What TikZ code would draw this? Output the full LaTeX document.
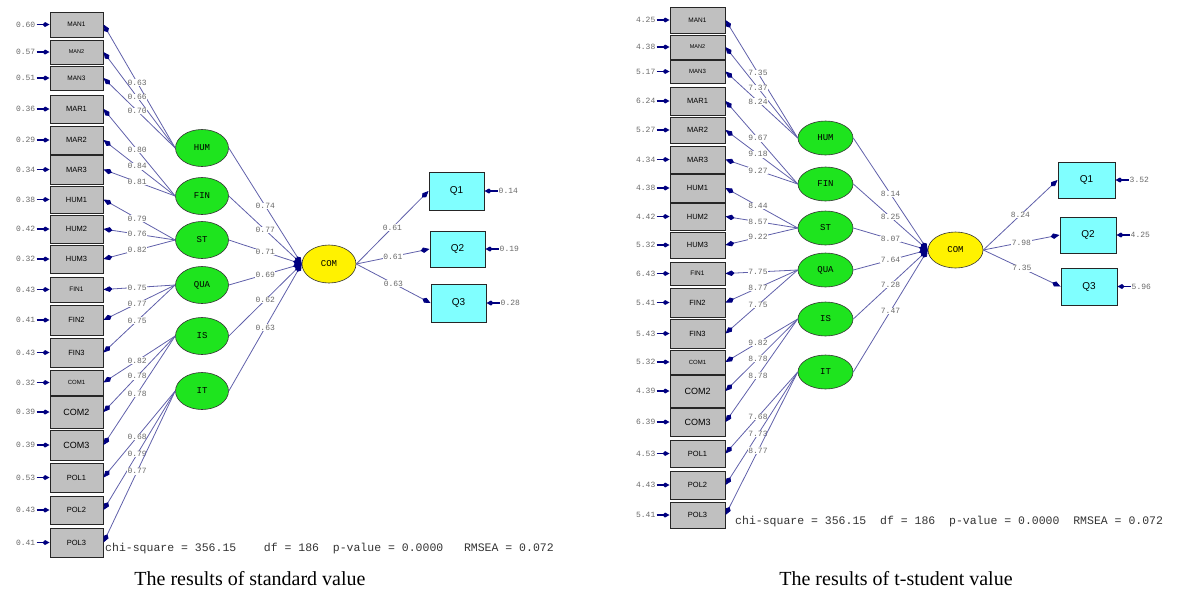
\documentclass[tikz,border=0pt]{standalone}
\usepackage{fontspec}
\setmainfont{Liberation Serif}
\setsansfont{Liberation Sans}
\setmonofont{Liberation Mono}
\usepackage{tikz}
\usetikzlibrary{positioning,arrows.meta,shapes.geometric}

\definecolor{boxgray}{RGB}{192,192,192}
\definecolor{latgreen}{RGB}{30,228,30}
\definecolor{comyellow}{RGB}{255,242,0}
\definecolor{qcyan}{RGB}{128,255,255}
\definecolor{pathblue}{RGB}{96,96,170}
\definecolor{tipnavy}{RGB}{0,0,128}
\definecolor{labgray}{RGB}{105,105,105}

\begin{document}
\begin{tikzpicture}[x=1pt, y=-1pt,
    ind/.style={rectangle, draw=black!85, line width=1pt, fill=boxgray, minimum width=53pt, inner sep=0pt, font=\sffamily\fontsize{7.5}{8}\selectfont},
    lat/.style={ellipse, draw=black!80, line width=0.6pt, fill=latgreen, minimum width=53pt, minimum height=37pt, inner sep=0pt, font=\ttfamily\fontsize{9}{10}\selectfont},
    qbox/.style={rectangle, draw=black!85, line width=1pt, fill=qcyan, minimum width=55pt, minimum height=37pt, inner sep=0pt, font=\sffamily\fontsize{10}{11}\selectfont},
    err/.style={inner sep=1pt, text=labgray, font=\ttfamily\fontsize{8}{9}\selectfont},
    load/.style={fill=white, inner sep=0.6pt, text=labgray, font=\ttfamily\fontsize{8}{9}\selectfont},
    lpath/.style={draw=pathblue, line width=0.8pt, -{Kite[length=9pt,width=5.5pt,inset=3pt,color=tipnavy]}},
    errarr/.style={draw=tipnavy, line width=1.5pt, -{Kite[length=7pt,width=5pt,inset=2.5pt]}},
    chi/.style={anchor=base west, inner sep=0pt, text=black!80, font=\ttfamily\fontsize{11.5}{12}\selectfont},
    caption/.style={anchor=base, inner sep=0pt, font=\fontsize{20}{22}\selectfont}]
    \useasboundingbox (0,0) rectangle (1178,600);

    %% Standard values
    \node[ind, minimum height=25pt, font=\sffamily\fontsize{6.5}{7}\selectfont] (MAN1) at (76.5,24.5) {MAN1};
    \node[ind, minimum height=24pt, font=\sffamily\fontsize{5.5}{6}\selectfont] (MAN2) at (76.5,52) {MAN2};
    \node[ind, minimum height=24pt, font=\sffamily\fontsize{6.5}{7}\selectfont] (MAN3) at (76.5,78) {MAN3};
    \node[ind, minimum height=28pt] (MAR1) at (76.5,109) {MAR1};
    \node[ind, minimum height=28pt] (MAR2) at (76.5,140) {MAR2};
    \node[ind, minimum height=29pt] (MAR3) at (76.5,169.5) {MAR3};
    \node[ind, minimum height=27pt] (HUM1) at (76.5,199.5) {HUM1};
    \node[ind, minimum height=28pt] (HUM2) at (76.5,229) {HUM2};
    \node[ind, minimum height=28pt] (HUM3) at (76.5,259) {HUM3};
    \node[ind, minimum height=25pt, font=\sffamily\fontsize{6.5}{7}\selectfont] (FIN1) at (76.5,289.5) {FIN1};
    \node[ind, minimum height=30pt] (FIN2) at (76.5,320) {FIN2};
    \node[ind, minimum height=29pt] (FIN3) at (76.5,352.5) {FIN3};
    \node[ind, minimum height=25pt, font=\sffamily\fontsize{6}{7}\selectfont] (COM1) at (76.5,382.5) {COM1};
    \node[ind, minimum height=32pt, font=\sffamily\fontsize{9}{10}\selectfont] (COM2) at (76.5,412) {COM2};
    \node[ind, minimum height=30pt, font=\sffamily\fontsize{9}{10}\selectfont] (COM3) at (76.5,445) {COM3};
    \node[ind, minimum height=29pt] (POL1) at (76.5,477.5) {POL1};
    \node[ind, minimum height=28pt] (POL2) at (76.5,510) {POL2};
    \node[ind, minimum height=29pt] (POL3) at (76.5,542.5) {POL3};

    \node[err, left=13pt of MAN1] (eMAN1) {0.60}; \draw[errarr] (eMAN1) -- (MAN1);
    \node[err, left=13pt of MAN2] (eMAN2) {0.57}; \draw[errarr] (eMAN2) -- (MAN2);
    \node[err, left=13pt of MAN3] (eMAN3) {0.51}; \draw[errarr] (eMAN3) -- (MAN3);
    \node[err, left=13pt of MAR1] (eMAR1) {0.36}; \draw[errarr] (eMAR1) -- (MAR1);
    \node[err, left=13pt of MAR2] (eMAR2) {0.29}; \draw[errarr] (eMAR2) -- (MAR2);
    \node[err, left=13pt of MAR3] (eMAR3) {0.34}; \draw[errarr] (eMAR3) -- (MAR3);
    \node[err, left=13pt of HUM1] (eHUM1) {0.38}; \draw[errarr] (eHUM1) -- (HUM1);
    \node[err, left=13pt of HUM2] (eHUM2) {0.42}; \draw[errarr] (eHUM2) -- (HUM2);
    \node[err, left=13pt of HUM3] (eHUM3) {0.32}; \draw[errarr] (eHUM3) -- (HUM3);
    \node[err, left=13pt of FIN1] (eFIN1) {0.43}; \draw[errarr] (eFIN1) -- (FIN1);
    \node[err, left=13pt of FIN2] (eFIN2) {0.41}; \draw[errarr] (eFIN2) -- (FIN2);
    \node[err, left=13pt of FIN3] (eFIN3) {0.43}; \draw[errarr] (eFIN3) -- (FIN3);
    \node[err, left=13pt of COM1] (eCOM1) {0.32}; \draw[errarr] (eCOM1) -- (COM1);
    \node[err, left=13pt of COM2] (eCOM2) {0.39}; \draw[errarr] (eCOM2) -- (COM2);
    \node[err, left=13pt of COM3] (eCOM3) {0.39}; \draw[errarr] (eCOM3) -- (COM3);
    \node[err, left=13pt of POL1] (ePOL1) {0.53}; \draw[errarr] (ePOL1) -- (POL1);
    \node[err, left=13pt of POL2] (ePOL2) {0.43}; \draw[errarr] (ePOL2) -- (POL2);
    \node[err, left=13pt of POL3] (ePOL3) {0.41}; \draw[errarr] (ePOL3) -- (POL3);

    \node[lat] (HUM) at (202,148) {HUM};
    \node[lat] (FIN) at (202,196) {FIN};
    \node[lat] (ST) at (202,240) {ST};
    \node[lat] (QUA) at (202,285) {QUA};
    \node[lat] (IS) at (202,336) {IS};
    \node[lat] (IT) at (202,391) {IT};

    \draw[lpath] (HUM.west) -- node[load, pos=0.53] {0.63} (MAN1.east);
    \draw[lpath] (HUM.west) -- node[load, pos=0.53] {0.66} (MAN2.east);
    \draw[lpath] (HUM.west) -- node[load, pos=0.53] {0.70} (MAN3.east);
    \draw[lpath] (FIN.west) -- node[load, pos=0.53] {0.80} (MAR1.east);
    \draw[lpath] (FIN.west) -- node[load, pos=0.53] {0.84} (MAR2.east);
    \draw[lpath] (FIN.west) -- node[load, pos=0.53] {0.81} (MAR3.east);
    \draw[lpath] (ST.west) -- node[load, pos=0.53] {0.79} (HUM1.east);
    \draw[lpath] (ST.west) -- node[load, pos=0.53] {0.76} (HUM2.east);
    \draw[lpath] (ST.west) -- node[load, pos=0.53] {0.82} (HUM3.east);
    \draw[lpath] (QUA.west) -- node[load, pos=0.53] {0.75} (FIN1.east);
    \draw[lpath] (QUA.west) -- node[load, pos=0.53] {0.77} (FIN2.east);
    \draw[lpath] (QUA.west) -- node[load, pos=0.53] {0.75} (FIN3.east);
    \draw[lpath] (IS.west) -- node[load, pos=0.53] {0.82} (COM1.east);
    \draw[lpath] (IS.west) -- node[load, pos=0.53] {0.78} (COM2.east);
    \draw[lpath] (IS.west) -- node[load, pos=0.53] {0.78} (COM3.east);
    \draw[lpath] (IT.west) -- node[load, pos=0.53] {0.68} (POL1.east);
    \draw[lpath] (IT.west) -- node[load, pos=0.53] {0.79} (POL2.east);
    \draw[lpath] (IT.west) -- node[load, pos=0.53] {0.77} (POL3.east);

    \node[lat, fill=comyellow, minimum width=54pt, minimum height=38pt] (COM) at (329,264) {COM};
    \draw[lpath] (HUM.east) -- node[load] {0.74} (COM.west);
    \draw[lpath] (FIN.east) -- node[load] {0.77} (COM.west);
    \draw[lpath] (ST.east) -- node[load] {0.71} (COM.west);
    \draw[lpath] (QUA.east) -- node[load] {0.69} (COM.west);
    \draw[lpath] (IS.east) -- node[load] {0.62} (COM.west);
    \draw[lpath] (IT.east) -- node[load] {0.63} (COM.west);

    \node[qbox, minimum height=38pt] (Q1) at (456.5,191) {Q1};
    \node[qbox, minimum height=36pt] (Q2) at (457.5,249) {Q2};
    \node[qbox, minimum height=38pt] (Q3) at (458.5,303) {Q3};
    \draw[lpath] (COM.east) -- node[load] {0.61} (Q1.west);
    \draw[lpath] (COM.east) -- node[load] {0.61} (Q2.west);
    \draw[lpath] (COM.east) -- node[load] {0.63} (Q3.west);
    \node[err, right=13pt of Q1] (eQ1) {0.14}; \draw[errarr] (eQ1) -- (Q1);
    \node[err, right=13pt of Q2] (eQ2) {0.19}; \draw[errarr] (eQ2) -- (Q2);
    \node[err, right=13pt of Q3] (eQ3) {0.28}; \draw[errarr] (eQ3) -- (Q3);

    \node[chi] (fit) at (105,551) {chi-square~=~356.15~~~~df~=~186~~p-value~=~0.0000~~~RMSEA~=~0.072};
    \node[caption] (cap) at (250,585) {The results of standard value};

    %% t-student values
    \node[ind, minimum width=55pt, minimum height=26pt, font=\sffamily\fontsize{6.5}{7}\selectfont] (MAN1) at (697.5,20) {MAN1};
    \node[ind, minimum width=55pt, minimum height=24pt, font=\sffamily\fontsize{5.5}{6}\selectfont] (MAN2) at (697.5,47) {MAN2};
    \node[ind, minimum width=55pt, minimum height=23pt, font=\sffamily\fontsize{6}{7}\selectfont] (MAN3) at (697.5,71.5) {MAN3};
    \node[ind, minimum width=55pt, minimum height=28pt] (MAR1) at (697.5,101) {MAR1};
    \node[ind, minimum width=55pt, minimum height=26pt] (MAR2) at (697.5,130) {MAR2};
    \node[ind, minimum width=55pt, minimum height=27pt] (MAR3) at (697.5,159.5) {MAR3};
    \node[ind, minimum width=55pt, minimum height=28pt] (HUM1) at (697.5,188) {HUM1};
    \node[ind, minimum width=55pt, minimum height=27pt] (HUM2) at (697.5,216.5) {HUM2};
    \node[ind, minimum width=55pt, minimum height=26pt] (HUM3) at (697.5,245) {HUM3};
    \node[ind, minimum width=55pt, minimum height=23pt, font=\sffamily\fontsize{6.5}{7}\selectfont] (FIN1) at (697.5,273.5) {FIN1};
    \node[ind, minimum width=55pt, minimum height=29pt] (FIN2) at (697.5,302.5) {FIN2};
    \node[ind, minimum width=55pt, minimum height=29pt] (FIN3) at (697.5,333.5) {FIN3};
    \node[ind, minimum width=55pt, minimum height=24pt, font=\sffamily\fontsize{6}{7}\selectfont] (COM1) at (697.5,362) {COM1};
    \node[ind, minimum width=55pt, minimum height=32pt, font=\sffamily\fontsize{9}{10}\selectfont] (COM2) at (697.5,391) {COM2};
    \node[ind, minimum width=55pt, minimum height=28pt, font=\sffamily\fontsize{9}{10}\selectfont] (COM3) at (697.5,422) {COM3};
    \node[ind, minimum width=55pt, minimum height=27pt] (POL1) at (697.5,453.5) {POL1};
    \node[ind, minimum width=55pt, minimum height=28pt] (POL2) at (697.5,485) {POL2};
    \node[ind, minimum width=55pt, minimum height=26pt] (POL3) at (697.5,515) {POL3};

    \node[err, left=13pt of MAN1] (eMAN1) {4.25}; \draw[errarr] (eMAN1) -- (MAN1);
    \node[err, left=13pt of MAN2] (eMAN2) {4.38}; \draw[errarr] (eMAN2) -- (MAN2);
    \node[err, left=13pt of MAN3] (eMAN3) {5.17}; \draw[errarr] (eMAN3) -- (MAN3);
    \node[err, left=13pt of MAR1] (eMAR1) {6.24}; \draw[errarr] (eMAR1) -- (MAR1);
    \node[err, left=13pt of MAR2] (eMAR2) {5.27}; \draw[errarr] (eMAR2) -- (MAR2);
    \node[err, left=13pt of MAR3] (eMAR3) {4.34}; \draw[errarr] (eMAR3) -- (MAR3);
    \node[err, left=13pt of HUM1] (eHUM1) {4.38}; \draw[errarr] (eHUM1) -- (HUM1);
    \node[err, left=13pt of HUM2] (eHUM2) {4.42}; \draw[errarr] (eHUM2) -- (HUM2);
    \node[err, left=13pt of HUM3] (eHUM3) {5.32}; \draw[errarr] (eHUM3) -- (HUM3);
    \node[err, left=13pt of FIN1] (eFIN1) {6.43}; \draw[errarr] (eFIN1) -- (FIN1);
    \node[err, left=13pt of FIN2] (eFIN2) {5.41}; \draw[errarr] (eFIN2) -- (FIN2);
    \node[err, left=13pt of FIN3] (eFIN3) {5.43}; \draw[errarr] (eFIN3) -- (FIN3);
    \node[err, left=13pt of COM1] (eCOM1) {5.32}; \draw[errarr] (eCOM1) -- (COM1);
    \node[err, left=13pt of COM2] (eCOM2) {4.39}; \draw[errarr] (eCOM2) -- (COM2);
    \node[err, left=13pt of COM3] (eCOM3) {6.39}; \draw[errarr] (eCOM3) -- (COM3);
    \node[err, left=13pt of POL1] (ePOL1) {4.53}; \draw[errarr] (ePOL1) -- (POL1);
    \node[err, left=13pt of POL2] (ePOL2) {4.43}; \draw[errarr] (ePOL2) -- (POL2);
    \node[err, left=13pt of POL3] (ePOL3) {5.41}; \draw[errarr] (ePOL3) -- (POL3);

    \node[lat, minimum width=55pt, minimum height=34pt] (HUM) at (825.5,138) {HUM};
    \node[lat, minimum width=55pt, minimum height=34pt] (FIN) at (825.5,184) {FIN};
    \node[lat, minimum width=55pt, minimum height=34pt] (ST) at (825.5,228) {ST};
    \node[lat, minimum width=55pt, minimum height=34pt] (QUA) at (825.5,270) {QUA};
    \node[lat, minimum width=55pt, minimum height=34pt] (IS) at (825.5,319) {IS};
    \node[lat, minimum width=55pt, minimum height=34pt] (IT) at (825.5,372) {IT};

    \draw[lpath] (HUM.west) -- node[load, pos=0.55] {7.35} (MAN1.east);
    \draw[lpath] (HUM.west) -- node[load, pos=0.55] {7.37} (MAN2.east);
    \draw[lpath] (HUM.west) -- node[load, pos=0.55] {8.24} (MAN3.east);
    \draw[lpath] (FIN.west) -- node[load, pos=0.55] {9.67} (MAR1.east);
    \draw[lpath] (FIN.west) -- node[load, pos=0.55] {9.18} (MAR2.east);
    \draw[lpath] (FIN.west) -- node[load, pos=0.55] {9.27} (MAR3.east);
    \draw[lpath] (ST.west) -- node[load, pos=0.55] {8.44} (HUM1.east);
    \draw[lpath] (ST.west) -- node[load, pos=0.55] {8.57} (HUM2.east);
    \draw[lpath] (ST.west) -- node[load, pos=0.55] {9.22} (HUM3.east);
    \draw[lpath] (QUA.west) -- node[load, pos=0.55] {7.75} (FIN1.east);
    \draw[lpath] (QUA.west) -- node[load, pos=0.55] {8.77} (FIN2.east);
    \draw[lpath] (QUA.west) -- node[load, pos=0.55] {7.75} (FIN3.east);
    \draw[lpath] (IS.west) -- node[load, pos=0.55] {9.82} (COM1.east);
    \draw[lpath] (IS.west) -- node[load, pos=0.55] {8.78} (COM2.east);
    \draw[lpath] (IS.west) -- node[load, pos=0.55] {8.78} (COM3.east);
    \draw[lpath] (IT.west) -- node[load, pos=0.55] {7.68} (POL1.east);
    \draw[lpath] (IT.west) -- node[load, pos=0.55] {7.73} (POL2.east);
    \draw[lpath] (IT.west) -- node[load, pos=0.55] {8.77} (POL3.east);

    \node[lat, fill=comyellow, minimum width=55pt, minimum height=36pt] (COM) at (955.5,250) {COM};
    \draw[lpath] (HUM.east) -- node[load] {8.14} (COM.west);
    \draw[lpath] (FIN.east) -- node[load] {8.25} (COM.west);
    \draw[lpath] (ST.east) -- node[load] {8.07} (COM.west);
    \draw[lpath] (QUA.east) -- node[load] {7.64} (COM.west);
    \draw[lpath] (IS.east) -- node[load] {7.28} (COM.west);
    \draw[lpath] (IT.east) -- node[load] {7.47} (COM.west);

    \node[qbox, minimum width=57pt, minimum height=36pt] (Q1) at (1086.5,180) {Q1};
    \node[qbox, minimum width=56pt, minimum height=36pt] (Q2) at (1088,235) {Q2};
    \node[qbox, minimum width=56pt, minimum height=37pt] (Q3) at (1089,286.5) {Q3};
    \draw[lpath] (COM.east) -- node[load] {8.24} (Q1.west);
    \draw[lpath] (COM.east) -- node[load] {7.98} (Q2.west);
    \draw[lpath] (COM.east) -- node[load] {7.35} (Q3.west);
    \node[err, right=13pt of Q1] (eQ1) {3.52}; \draw[errarr] (eQ1) -- (Q1);
    \node[err, right=13pt of Q2] (eQ2) {4.25}; \draw[errarr] (eQ2) -- (Q2);
    \node[err, right=13pt of Q3] (eQ3) {5.96}; \draw[errarr] (eQ3) -- (Q3);

    \node[chi] (fit) at (735,524) {chi-square~=~356.15~~df~=~186~~p-value~=~0.0000~~RMSEA~=~0.072};
    \node[caption] (cap) at (896,585) {The results of t-student value};
\end{tikzpicture}
\end{document}
